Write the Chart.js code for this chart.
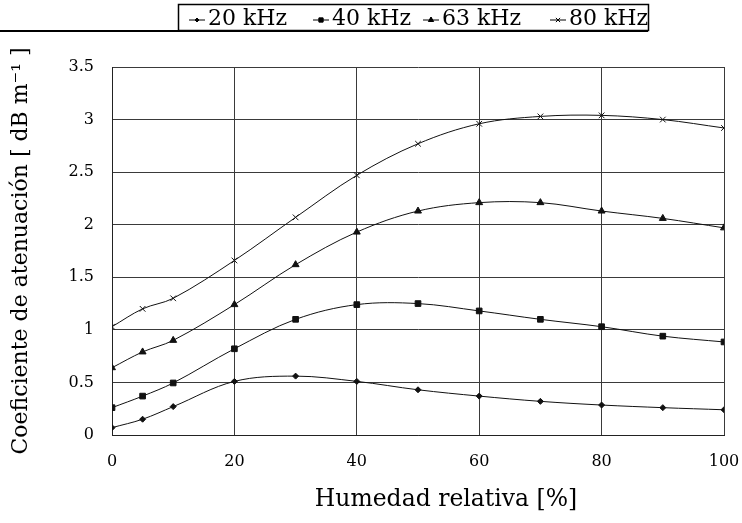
<!DOCTYPE html>
<html>
<head>
<meta charset="utf-8">
<script src="https://cdn.jsdelivr.net/npm/chart.js@4/dist/chart.umd.min.js"></script>
<style>
  body { margin: 0; background: #fff; }
  #wrap { width: 742px; height: 523px; }
</style>
</head>
<body>
<div id="wrap"><canvas id="chart" width="742" height="523"></canvas></div>
<script>
const humidity = [0, 5, 10, 20, 30, 40, 50, 60, 70, 80, 90, 100];

const att20 = [0.07, 0.15, 0.27, 0.51, 0.56, 0.51, 0.43, 0.37, 0.32, 0.285, 0.26, 0.24];
const att40 = [0.26, 0.37, 0.495, 0.82, 1.10, 1.24, 1.25, 1.18, 1.10, 1.03, 0.94, 0.885];
const att63 = [0.64, 0.79, 0.90, 1.24, 1.62, 1.93, 2.13, 2.21, 2.21, 2.13, 2.06, 1.97];
const att80 = [1.03, 1.20, 1.30, 1.66, 2.07, 2.47, 2.77, 2.96, 3.03, 3.04, 3.00, 2.92];

const seriesLabels = ['20 kHz', '40 kHz', '63 kHz', '80 kHz'];
const markerStyles = ['rectRot', 'rect', 'triangle', 'crossRot'];
const markerSizes = [3, 4, 4, 4];

const xTitle = 'Humedad relativa [%]';
const yTitle = 'Coeficiente de atenuación [ dB m⁻¹ ]';

const serif = "'DejaVu Serif', 'Liberation Serif', serif";

function toPoints(values) {
    return humidity.map((h, i) => ({ x: h, y: values[i] }));
}

const datasets = [att20, att40, att63, att80].map((values, i) => ({
    label: seriesLabels[i],
    data: toPoints(values),
    borderColor: '#111',
    backgroundColor: '#111',
    borderWidth: 1,
    pointStyle: markerStyles[i],
    pointRadius: markerSizes[i],
    pointBorderWidth: 1,
    tension: 0.35,
}));

// boxed legend at the top, long rule underneath, and the x title (sits right of centre)
const decorations = {
    id: 'decorations',
    afterDraw(chart) {
        const ctx = chart.ctx;
        ctx.save();
        ctx.strokeStyle = '#000';
        ctx.lineWidth = 1.5;
        ctx.strokeRect(178.5, 4.5, 470, 26);
        ctx.lineWidth = 2;
        ctx.beginPath();
        ctx.moveTo(0, 31);
        ctx.lineTo(648, 31);
        ctx.stroke();

        const markerX = [197, 321, 431, 558];
        ctx.font = '22px ' + serif;
        ctx.textBaseline = 'middle';
        ctx.fillStyle = '#000';
        chart.data.datasets.forEach((ds, i) => {
            const x = markerX[i];
            ctx.lineWidth = 1;
            ctx.beginPath();
            ctx.moveTo(x - 8, 20);
            ctx.lineTo(x + 8, 20);
            ctx.stroke();
            Chart.helpers.drawPoint(ctx, {
                pointStyle: ds.pointStyle,
                radius: ds.pointRadius - 1,
                borderWidth: 1,
            }, x, 20);
            ctx.fill();
            ctx.fillText(ds.label, x + 11, 19);
        });

        ctx.font = '23.5px ' + serif;
        ctx.textAlign = 'center';
        ctx.fillText(xTitle, 446, 500);
        ctx.restore();
    }
};

new Chart(document.getElementById('chart'), {
    type: 'line',
    data: { datasets: datasets },
    plugins: [decorations],
    options: {
        responsive: false,
        animation: false,
        layout: { padding: { top: 67, right: 18, left: 0, bottom: 0 } },
        plugins: {
            legend: { display: false },
            tooltip: { enabled: false },
        },
        scales: {
            x: {
                type: 'linear',
                min: 0,
                max: 100,
                ticks: {
                    stepSize: 20,
                    color: '#000',
                    font: { family: serif, size: 16 },
                    padding: 17,
                },
                grid: { color: '#3a3a3a', lineWidth: 1, drawTicks: false },
                border: { color: '#222', width: 1 },
                afterFit(scale) {
                    scale.height = 88;
                    scale.paddingLeft = 0;
                    scale.paddingRight = 0;
                },
            },
            y: {
                min: 0,
                max: 3.5,
                ticks: {
                    stepSize: 0.5,
                    color: '#000',
                    font: { family: serif, size: 16 },
                    padding: 18,
                    callback: (value) => String(value),
                },
                grid: { color: '#3a3a3a', lineWidth: 1, drawTicks: false },
                border: { color: '#222', width: 1 },
                title: {
                    display: true,
                    text: yTitle,
                    color: '#000',
                    font: { family: serif, size: 22 },
                    padding: { top: 8, bottom: 0 },
                },
                afterFit(scale) {
                    scale.width = 112;
                    scale.paddingTop = 0;
                    scale.paddingBottom = 0;
                },
            },
        },
    },
});
</script>
</body>
</html>
